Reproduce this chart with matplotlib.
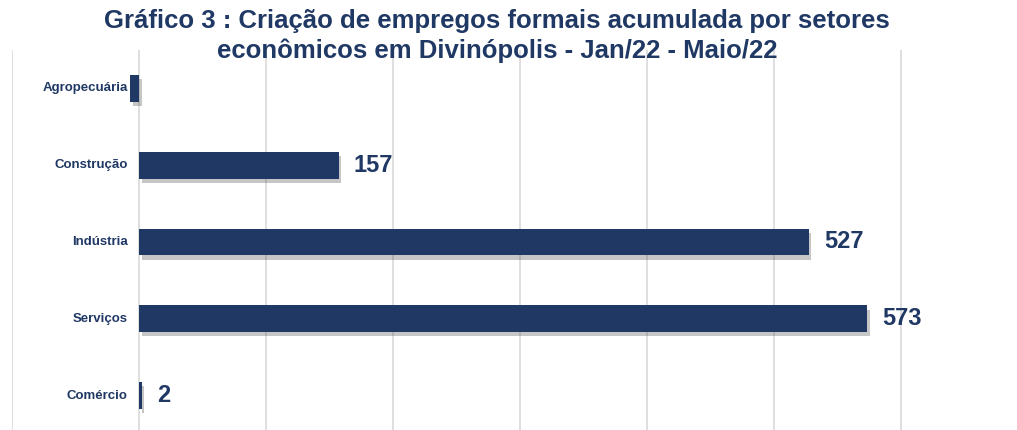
import matplotlib.pyplot as plt
import matplotlib.patheffects as pe

setores = ['Agropecuária', 'Construção', 'Indústria', 'Serviços', 'Comércio']
saldo = [-7, 157, 527, 573, 2]
rotulos = ['', '157', '527', '573', '2']
titulo = ['Gráfico 3 : Criação de empregos formais acumulada por setores',
          'econômicos em Divinópolis - Jan/22 - Maio/22']

navy = '#1f3864'
plt.rcParams['font.family'] = ['Liberation Sans', 'DejaVu Sans']

fig = plt.figure(figsize=(10.17, 4.3), dpi=100)
ax = fig.add_axes([12 / 1017, -4 / 430, 1005 / 1017, 384 / 430])

ypos = list(range(len(setores)))
bars = ax.barh(ypos, saldo, height=0.35, color=navy, zorder=3)
for b in bars:
    b.set_path_effects([pe.SimplePatchShadow(offset=(2, -3), alpha=0.3, shadow_rgbFace='#444444'),
                        pe.Normal()])

ax.set_xlim(-100, 691)
ax.set_ylim(len(setores) - 0.5, -0.5)
ax.set_xticks(range(-100, 700, 100))
ax.grid(axis='x', color='#d9d9d9', linewidth=1.2, zorder=0)
ax.set_yticks([])
ax.tick_params(axis='x', length=0, labelbottom=False)
for s in ax.spines.values():
    s.set_visible(False)

for y, nome in zip(ypos, setores):
    ax.text(-9, y, nome, ha='right', va='center', fontsize=9.5, fontweight='bold',
            color=navy, zorder=4)

for y, v, lab in zip(ypos, saldo, rotulos):
    if lab:
        ax.text(max(v, 0) + 12, y, lab, ha='left', va='center', fontsize=17,
                fontweight='bold', color=navy, zorder=4)

# title lines placed at their pixel centres (20 px and 50 px from the top)
for linha, ypx in zip(titulo, [21, 51]):
    fig.text(0.489, 1 - ypx / 430, linha, ha='center', va='center', fontsize=18.5,
             fontweight='bold', color=navy)

fig.savefig('out.png', dpi=100)
